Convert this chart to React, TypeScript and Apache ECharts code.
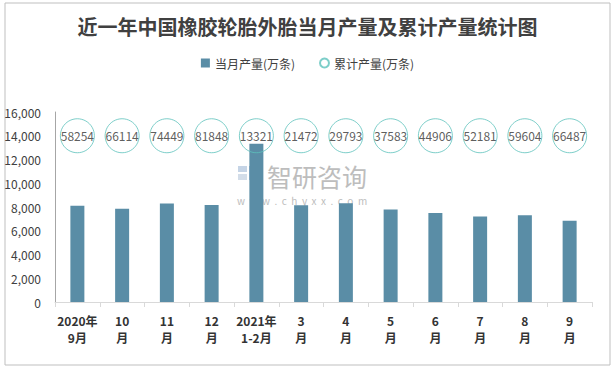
import React, { useEffect, useRef } from "react";
import * as echarts from "echarts";

const categories = [
  "2020年\n9月", "10\n月", "11\n月", "12\n月", "2021年\n1-2月", "3\n月",
  "4\n月", "5\n月", "6\n月", "7\n月", "8\n月", "9\n月",
];
const monthly = [8100, 7860, 8300, 8170, 13321, 8151, 8321, 7790, 7500, 7200, 7300, 6850];
const cumulative = [58254, 66114, 74449, 81848, 13321, 21472, 29793, 37583, 44906, 52181, 59604, 66487];
const circleLevel = [14000, 14000, 14000, 14000, 14000, 14000, 14000, 14000, 14000, 14000, 14000, 14000];

const FONT = "'Noto Sans CJK SC', 'Noto Sans', sans-serif";

export default function App() {
  const ref = useRef<HTMLDivElement>(null);
  useEffect(() => {
    const chart = echarts.init(ref.current!, null, { renderer: "svg" });
    chart.setOption({
      animation: false,
      backgroundColor: "#ffffff",
      title: {
        text: "近一年中国橡胶轮胎外胎当月产量及累计产量统计图",
        left: "center",
        top: 11,
        textStyle: { fontSize: 20, fontWeight: "bold", color: "#404040", fontFamily: FONT },
      },
      legend: {
        top: 52,
        left: "center",
        itemGap: 24,
        itemWidth: 9,
        itemHeight: 9,
        textStyle: { fontSize: 12, color: "#404040", fontFamily: FONT },
        data: [
          { name: "当月产量(万条)", icon: "rect" },
          { name: "累计产量(万条)", icon: "circle" },
        ],
      },
      grid: { left: 55, right: 23, top: 112, bottom: 67 },
      xAxis: {
        type: "category",
        data: categories,
        axisLine: { lineStyle: { color: "#d9d9d9" } },
        axisTick: { show: true, length: 5, lineStyle: { color: "#d9d9d9" } },
        axisLabel: {
          interval: 0,
          margin: 10,
          fontSize: 12,
          fontWeight: "bold",
          color: "#333333",
          lineHeight: 17,
          fontFamily: FONT,
        },
      },
      yAxis: {
        type: "value",
        min: 0,
        max: 16000,
        interval: 2000,
        axisLine: { show: true, lineStyle: { color: "#a6a6a6" } },
        axisTick: { show: false },
        splitLine: { show: false },
        axisLabel: {
          margin: 14,
          fontSize: 12,
          color: "#404040",
          fontFamily: FONT,
          formatter: (v: number) => v.toLocaleString("en-US"),
        },
      },
      series: [
        {
          name: "当月产量(万条)",
          type: "bar",
          data: monthly,
          barWidth: 14,
          itemStyle: { color: "#5a8da6" },
        },
        {
          name: "累计产量(万条)",
          type: "scatter",
          data: circleLevel,
          symbol: "circle",
          symbolSize: 34,
          z: 5,
          itemStyle: { color: "rgba(255,255,255,0)", borderColor: "#5cc2bc", borderWidth: 1 },
          label: {
            show: true,
            position: "inside",
            fontSize: 12,
            color: "#333333",
            fontFamily: FONT,
            formatter: (p: any) => String(cumulative[p.dataIndex]),
          },
        },
      ],
      graphic: [
        {
          type: "rect",
          shape: { x: 5, y: 3, width: 605, height: 362 },
          style: { fill: "none", stroke: "#bfbfbf", lineWidth: 1 },
          silent: true,
        },
        {
          type: "group",
          silent: true,
          z: 0,
          children: [
            { type: "rect", shape: { x: 238, y: 166, width: 9, height: 6 }, style: { fill: "#c5d4e6" } },
            { type: "rect", shape: { x: 249, y: 166, width: 10, height: 14 }, style: { fill: "#a9c3e2" } },
            { type: "rect", shape: { x: 238, y: 174, width: 9, height: 6 }, style: { fill: "#d3dde9" } },
            {
              type: "text",
              x: 267,
              y: 176,
              style: {
                text: "智研咨询",
                fontSize: 25,
                fill: "#bdbdbd",
                fontFamily: FONT,
                verticalAlign: "middle",
              },
            },
            {
              type: "text",
              x: 237,
              y: 200,
              style: {
                text: "w  w  w  .  c  h  y  x  x  .  c  o  m",
                fontSize: 10,
                fill: "#bdbdbd",
                fontFamily: FONT,
                verticalAlign: "middle",
              },
            },
          ],
        },
      ],
    });
    return () => chart.dispose();
  }, []);
  return (
    <div
      ref={ref}
      style={{ position: "fixed", left: 0, top: 0, width: 615, height: 369 }}
    />
  );
}
